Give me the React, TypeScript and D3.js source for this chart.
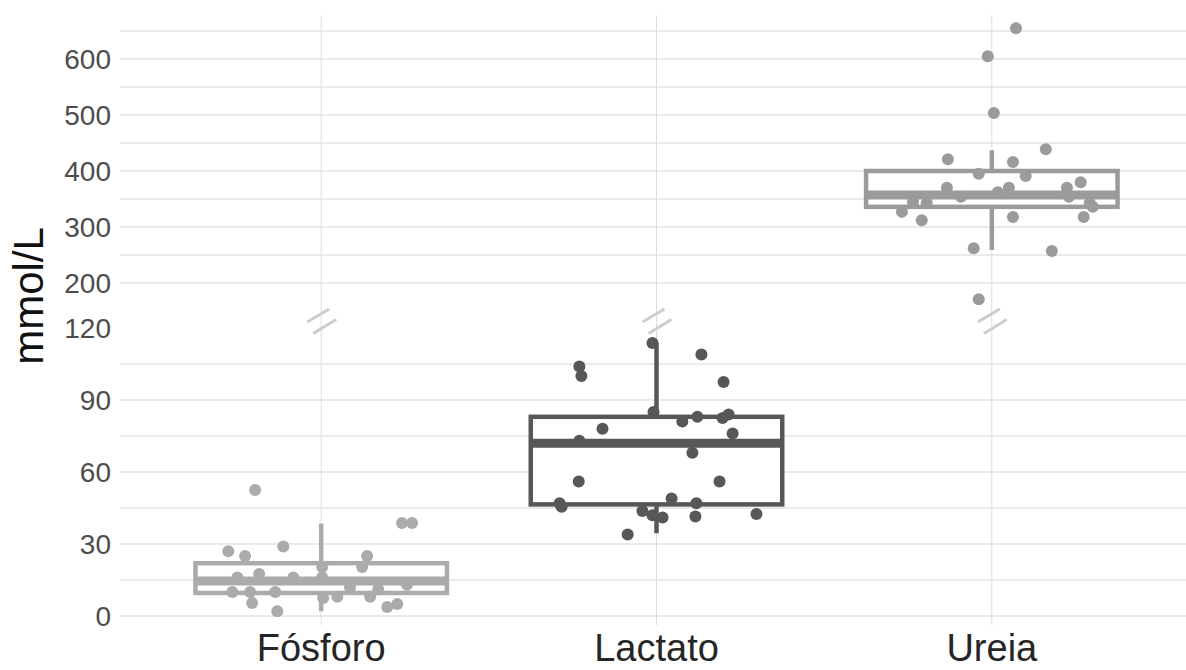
import React from "react";
import * as d3 from "d3";

const width = 1186;
const height = 670;

const categories = ["Fósforo", "Lactato", "Ureia"];

// jitter in category units, values in mmol/L
const fosforoJitter = [-0.197, -0.277, -0.227, -0.113, 0.241, 0.271, 0.137, 0.122, 0.003, -0.25, -0.185, -0.083, 0.003, -0.265, -0.212, -0.137, -0.206, -0.131, 0.006, 0.048, 0.146, 0.197, 0.227, 0.256, 0.086, 0.17];
const fosforoValues = [52.5, 27, 25, 29, 38.75, 38.75, 25, 20.4, 20.4, 16, 17.5, 16, 16, 10, 10, 10, 5.4, 2, 7.5, 8, 8, 3.75, 5, 13, 12, 11];

const lactatoJitter = [-0.012, 0.134, -0.23, -0.224, 0.2, -0.009, 0.077, 0.122, 0.197, 0.215, -0.161, 0.227, -0.23, 0.107, -0.232, 0.188, -0.289, -0.283, 0.045, 0.119, -0.042, -0.012, 0.018, 0.116, 0.298, -0.086];
const lactatoValues = [113.75, 109, 104, 100, 97.5, 85, 81, 83, 82.5, 84, 78, 76, 73, 68, 56, 56, 47, 45.5, 49, 47, 43.75, 42, 41, 41.5, 42.5, 34];

const ureiaJitter = [0.072, -0.012, 0.006, 0.161, -0.131, 0.063, -0.039, 0.101, 0.265, -0.134, 0.051, 0.224, -0.092, 0.23, -0.235, -0.194, 0.292, -0.268, 0.301, -0.209, 0.063, 0.274, -0.054, 0.179, -0.039, 0.018];
const ureiaValues = [655, 605, 503.5, 439, 421, 416, 395, 391, 380, 370, 370, 370, 354, 354, 345, 343, 343, 327, 336, 312, 318, 318, 262, 257, 171, 362];

// [lower whisker, q1, median, q3, upper whisker]
const fosforoBox = [2, 9.6, 14.6, 22, 38.5];
const lactatoBox = [34.5, 46.5, 72, 83, 113.75];
const ureiaBox = [259, 336, 357, 400, 437];

const lowerTicks = [0, 30, 60, 90, 120];
const lowerMinor = [15, 45, 75, 105];
const upperTicks = [200, 300, 400, 500, 600];
const upperMinor = [250, 350, 450, 550, 650];

const font = "'Liberation Sans', Arial, Helvetica, sans-serif";

export default function App() {
  const x = d3.scalePoint<string>().domain(categories).range([120, 1193]).padding(0.6);
  const step = x.step();
  const boxW = step * 0.75;

  const yLow = d3.scaleLinear().domain([0, 120]).range([616, 328]);
  const yHigh = d3.scaleLinear().domain([200, 600]).range([283, 59]);

  const groups = [
    { cat: "Fósforo", jitter: fosforoJitter, values: fosforoValues, box: fosforoBox, y: yLow, color: "#ababab" },
    { cat: "Lactato", jitter: lactatoJitter, values: lactatoValues, box: lactatoBox, y: yLow, color: "#575757" },
    { cat: "Ureia", jitter: ureiaJitter, values: ureiaValues, box: ureiaBox, y: yHigh, color: "#9b9b9b" },
  ];

  const panelTop = yHigh(678);
  const panelBottom = yLow(-3.75);
  const breakY = (yHigh(150) + yLow(120)) / 2 + 1;
  const gridColor = "#e3e3e3";

  return (
    <svg width={width} height={height} style={{ display: "block", position: "absolute", left: 0, top: 0 }}>
      <rect width={width} height={height} fill="#fff" />
      {/* horizontal grid */}
      {[...upperTicks, ...upperMinor].map((t) => (
        <line key={"u" + t} x1={120} x2={1193} y1={yHigh(t)} y2={yHigh(t)} stroke={gridColor} strokeWidth={1.3} />
      ))}
      {[...lowerTicks.filter((t) => t < 118), ...lowerMinor].map((t) => (
        <line key={"l" + t} x1={120} x2={1193} y1={yLow(t)} y2={yLow(t)} stroke={gridColor} strokeWidth={1.3} />
      ))}
      {/* vertical grid */}
      {categories.map((c) => (
        <line key={"v" + c} x1={x(c)} x2={x(c)} y1={panelTop} y2={panelBottom} stroke="#dcdcdc" strokeWidth={1} />
      ))}
      {/* break marks */}
      {categories.map((c) => {
        const cx = x(c)!;
        return (
          <g key={"b" + c} stroke="#cdcdcd" strokeWidth={3}>
            <line x1={cx - 14} y1={breakY + 1.5} x2={cx + 8} y2={breakY - 11.5} />
            <line x1={cx - 8} y1={breakY + 13} x2={cx + 15} y2={breakY - 1} />
          </g>
        );
      })}
      {/* boxes */}
      {groups.map((g) => {
        const cx = x(g.cat)!;
        const [lo, q1, med, q3, hi] = g.box;
        return (
          <g key={"box" + g.cat} stroke={g.color}>
            <line x1={cx} x2={cx} y1={g.y(q3)} y2={g.y(hi)} strokeWidth={4.5} />
            <line x1={cx} x2={cx} y1={g.y(q1)} y2={g.y(lo)} strokeWidth={4.5} />
            <rect x={cx - boxW / 2} width={boxW} y={g.y(q3)} height={g.y(q1) - g.y(q3)} fill="#fff" strokeWidth={4.5} />
            <line x1={cx - boxW / 2} x2={cx + boxW / 2} y1={g.y(med)} y2={g.y(med)} strokeWidth={9} />
          </g>
        );
      })}
      {/* points */}
      {groups.map((g) => (
        <g key={"pts" + g.cat} fill={g.color}>
          {g.values.map((v, i) => (
            <circle key={i} cx={x(g.cat)! + g.jitter[i] * step} cy={g.y(v)} r={6} />
          ))}
        </g>
      ))}
      {/* y tick labels */}
      <g fontFamily={font} fontSize={28} fill="#4d4d4d" textAnchor="end">
        {upperTicks.map((t) => (
          <text key={"ut" + t} x={111} y={yHigh(t)} dy="0.36em">{t}</text>
        ))}
        {lowerTicks.map((t) => (
          <text key={"lt" + t} x={111} y={yLow(t)} dy="0.36em">{t}</text>
        ))}
      </g>
      {/* x labels */}
      <g fontFamily={font} fontSize={38} fill="#262626" textAnchor="middle">
        {categories.map((c) => (
          <text key={"x" + c} x={x(c)} y={661}>{c}</text>
        ))}
      </g>
      <text
        transform={`translate(43, 296) rotate(-90)`}
        fontFamily={font}
        fontSize={42}
        fill="#111"
        textAnchor="middle"
      >
        mmol/L
      </text>
    </svg>
  );
}
